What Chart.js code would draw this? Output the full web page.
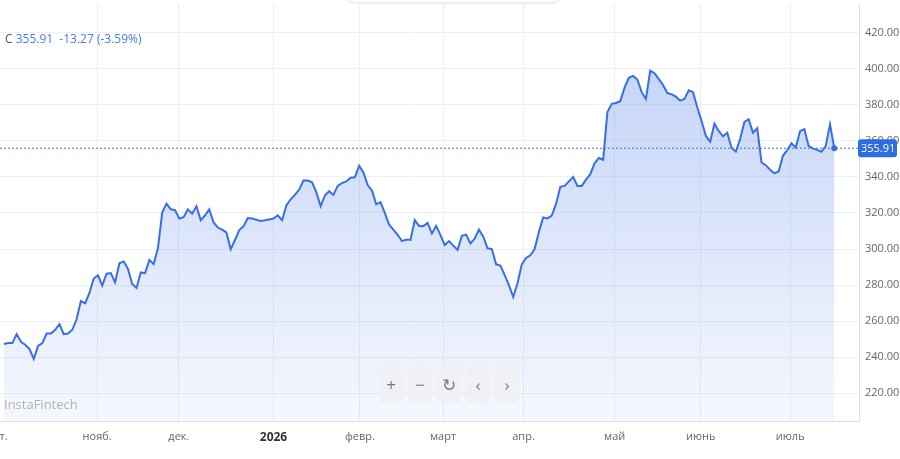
<!DOCTYPE html>
<html>
<head>
<meta charset="utf-8">
<script src="https://cdn.jsdelivr.net/npm/chart.js@4.4.1/dist/chart.umd.min.js"></script>
<style>
  html, body { margin: 0; padding: 0; background: #fff; overflow: hidden; }
  #wrap { position: relative; width: 900px; height: 459px; overflow: hidden; font-family: 'Open Sans', sans-serif; }
  #chartBox { position: absolute; left: -40px; top: 0; width: 940px; height: 459px; }
  #topTab { position: absolute; left: 345px; top: -6px; width: 215px; height: 8px; border-radius: 0 0 10px 10px; box-shadow: 0 1px 3px rgba(0,0,0,0.12); }
  #legend { position: absolute; left: 5px; top: 30px; font-size: 12px; color: #4b7be5; white-space: pre; }
  #legend .c { color: #555; }
  #watermark { position: absolute; left: 4px; top: 395px; font-size: 13px; color: #b3b3b3; }
  #controls { position: absolute; left: 379px; top: 366px; display: flex; gap: 5px; }
  #controls div { width: 24px; height: 37px; border-radius: 5px; background: rgba(240,240,244,0.9);
                  color: #7a7a7a; font-size: 17px; line-height: 37px; text-align: center; }
</style>
</head>
<body>
<div id="wrap">
  <div id="chartBox"><canvas id="myChart"></canvas></div>
  <div id="topTab"></div>
  <div id="legend"></div>
  <div id="watermark">InstaFintech</div>
  <div id="controls"><div>+</div><div>−</div><div>↻</div><div>‹</div><div>›</div></div>
</div>
<script>
// Daily closes (oldest first)
const prices = [
  247.3, 247.8, 247.8, 252.8, 248.5, 246.9, 244.5, 239.0, 246.3, 247.8,
  253.1, 253.1, 255.2, 258.3, 252.8, 253.1, 255.2, 261.0, 271.1, 269.8,
  275.6, 283.6, 285.4, 279.7, 286.3, 286.6, 281.5, 292.1, 293.1, 289.0,
  280.6, 278.4, 287.0, 286.6, 294.0, 291.6, 300.4, 320.2, 325.1, 322.0,
  321.5, 316.9, 317.6, 322.0, 319.6, 323.7, 316.0, 318.7, 322.0, 314.7,
  311.9, 310.7, 309.2, 299.8, 305.0, 310.5, 312.7, 317.2, 316.9, 316.2,
  315.6, 315.9, 316.4, 316.9, 318.7, 316.0, 324.2, 327.5, 330.0, 333.0,
  338.0, 338.0, 337.0, 331.5, 323.7, 329.7, 332.1, 330.0, 335.0, 336.6,
  337.5, 339.5, 339.8, 346.2, 342.5, 335.5, 332.5, 324.8, 326.0, 320.0,
  313.5, 310.8, 307.9, 304.4, 305.3, 305.0, 316.0, 312.8, 312.7, 314.5,
  308.6, 312.8, 307.7, 302.2, 304.4, 301.9, 299.5, 307.3, 308.0, 303.1,
  305.8, 310.8, 306.8, 300.4, 300.0, 291.5, 290.8, 285.5, 280.0, 273.4,
  281.0, 291.5, 295.0, 296.5, 300.0, 309.5, 317.5, 317.0, 318.5, 325.0,
  334.5, 335.0, 337.5, 340.0, 335.0, 335.0, 338.5, 341.5, 347.5, 350.5,
  349.5, 376.0, 380.5, 381.0, 382.0, 389.5, 395.0, 396.0, 394.0, 387.0,
  383.2, 398.9, 397.5, 394.2, 391.0, 386.5, 385.8, 384.5, 382.3, 383.2,
  388.0, 387.0, 378.5, 371.0, 362.7, 359.5, 369.5, 365.5, 362.5, 364.5,
  356.0, 354.0, 361.0, 370.5, 372.0, 364.5, 367.0, 348.0, 346.5, 344.0,
  342.0, 343.0, 351.7, 354.8, 358.6, 356.3, 365.4, 366.5, 357.2, 355.7,
  355.0, 353.9, 357.2, 369.18, 355.91
];
const prevClose = 369.18;

// Month starts (position in trading days) and their labels
const monthTicks = [-1.5, 21.8, 40.9, 63.0, 83.2, 102.6, 121.4, 142.7, 162.8, 183.7];
const monthLabels = ['окт.', 'нояб.', 'дек.', '2026', 'февр.', 'март', 'апр.', 'май', 'июнь', 'июль'];

// Price axis
const yTicks = [220, 240, 260, 280, 300, 320, 340, 360, 380, 400, 420];
const yMin = 204.6, yMax = 435.9;
const xMin = -9.3, xMax = 199.77;

const lineBlue = '#386ee6';
const last = prices[prices.length - 1];
const change = last - prevClose;
const pct = change / prevClose * 100;

document.getElementById('legend').innerHTML =
  '<span class="c">C</span> ' + last.toFixed(2) + '  ' + change.toFixed(2) + ' (' + pct.toFixed(2) + '%)';

const points = prices.map((v, i) => ({ x: i, y: v }));

// Blue price tag on the right axis
const priceTag = {
  id: 'priceTag',
  afterDraw(chart) {
    const { ctx, chartArea } = chart;
    const y = chart.scales.y.getPixelForValue(last);
    const x = chartArea.right - 1;
    const w = 39, h = 18;
    ctx.save();
    ctx.fillStyle = '#2f6be2';
    ctx.beginPath();
    ctx.roundRect(x, y - h / 2, w, h, 3);
    ctx.fill();
    ctx.fillStyle = '#fff';
    ctx.font = '11px "Open Sans"';
    ctx.textBaseline = 'middle';
    ctx.textAlign = 'left';
    ctx.fillText(last.toFixed(2), x + 3, y + 0.5);
    ctx.restore();
  }
};

// no extra room for the outer tick labels
const noPad = (s) => { s.paddingTop = 0; s.paddingBottom = 0; s.paddingLeft = 0; s.paddingRight = 0; };

const ctx = document.getElementById('myChart').getContext('2d');
const myChart = new Chart(ctx, {
  type: 'line',
  data: {
    datasets: [
      {
        data: points,
        borderColor: lineBlue,
        borderWidth: 2,
        tension: 0,
        fill: 'start',
        backgroundColor: (c) => {
          const area = c.chart.chartArea;
          if (!area) return 'rgba(56,110,230,0.15)';
          const g = c.chart.ctx.createLinearGradient(0, area.top, 0, area.bottom);
          g.addColorStop(0, 'rgba(56,110,230,0.33)');
          g.addColorStop(1, 'rgba(56,110,230,0.05)');
          return g;
        },
        pointRadius: (c) => (c.dataIndex === prices.length - 1 ? 3 : 0),
        pointBackgroundColor: lineBlue,
        pointBorderWidth: 0
      },
      {
        // dotted line at the last price
        data: [{ x: xMin, y: last }, { x: xMax, y: last }],
        borderColor: lineBlue,
        borderWidth: 1,
        borderDash: [2, 2],
        pointRadius: 0,
        fill: false
      }
    ]
  },
  options: {
    responsive: true,
    maintainAspectRatio: false,
    animation: false,
    layout: { padding: 0 },
    plugins: { legend: { display: false }, tooltip: { enabled: false } },
    scales: {
      x: {
        type: 'linear',
        min: xMin,
        max: xMax,
        afterBuildTicks: (s) => { s.ticks = monthTicks.map(v => ({ value: v })); },
        afterFit: (s) => { s.height = 38; noPad(s); },
        grid: { color: '#eeeff2', drawTicks: false },
        border: { display: true, color: '#dcdde0' },
        ticks: {
          autoSkip: false,
          maxRotation: 0,
          padding: 9,
          callback: (v, i) => monthLabels[i],
          color: (c) => (monthLabels[c.index] === '2026' ? '#333' : '#666'),
          font: (c) => (monthLabels[c.index] === '2026'
            ? { family: 'Open Sans', size: 12, weight: 'bold' }
            : { family: 'Open Sans', size: 11 })
        }
      },
      y: {
        position: 'right',
        min: yMin,
        max: yMax,
        afterBuildTicks: (s) => { s.ticks = yTicks.map(v => ({ value: v })); },
        afterFit: (s) => { s.width = 41; noPad(s); },
        grid: { color: '#eeeff2', drawTicks: false },
        border: { display: true, color: '#dcdde0' },
        ticks: {
          padding: 6,
          color: '#666',
          font: { family: 'Open Sans', size: 11 },
          callback: (v) => Number(v).toFixed(2)
        }
      }
    }
  },
  plugins: [priceTag]
});
</script>
</body>
</html>
